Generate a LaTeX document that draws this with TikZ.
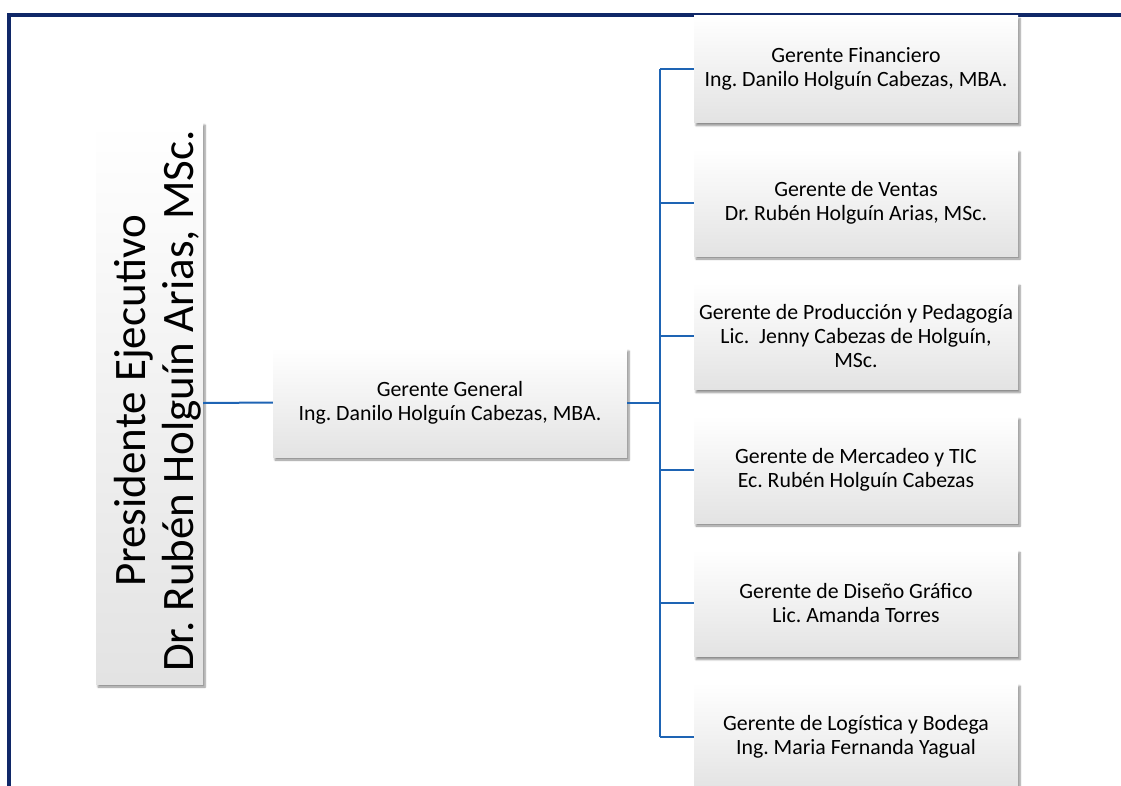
\documentclass[tikz,border=0pt]{standalone}
\usepackage{fontspec}
\setmainfont{Carlito}
\usetikzlibrary{shadows.blur}
\definecolor{azulmarco}{RGB}{16,40,104}
\definecolor{azullinea}{RGB}{30,100,180}
\frenchspacing

\begin{document}
\begin{tikzpicture}[x=1pt, y=-1pt,
    caja/.style={top color=white, bottom color=black!11, minimum width=324pt,
      minimum height=107pt, align=center, inner sep=2pt,
      font=\fontsize{21.8}{24}\selectfont,
      blur shadow={shadow xshift=2pt, shadow yshift=-3pt, shadow blur steps=6, shadow opacity=45}},
    linea/.style={azullinea, line width=2pt}]
    \clip (0,0) rectangle (1121,785);

    % Marco
    \draw[azulmarco, line width=4pt] (8.7,800) -- (8.7,14.7) -- (1130,14.7);

    % Presidente
    \node[caja, minimum width=107pt, minimum height=562pt] (pres) at (149.5,403) {};
    \node[rotate=90, align=center, font=\fontsize{45}{48}\selectfont] (prestexto) at (158,401)
        {Presidente Ejecutivo\\Dr. Rubén Holguín Arias, MSc.};

    % Gerente General
    \node[caja, minimum width=354pt, minimum height=109pt] (gg) at (450,402.5)
        {Gerente General\\Ing. Danilo Holguín Cabezas, MBA.};

    % Gerencias
    \node[caja] (fin) at (856,69) {Gerente Financiero\\Ing. Danilo Holguín Cabezas, MBA.};
    \node[caja] (ven) at (856,202.5) {Gerente de Ventas\\Dr. Rubén Holguín Arias, MSc.};
    \node[caja] (pro) at (856,336) {Gerente de Producción y Pedagogía\\Lic.\ \ Jenny Cabezas de Holguín,\\MSc.};
    \node[caja] (mer) at (856,469.5) {Gerente de Mercadeo y TIC\\Ec. Rubén Holguín Cabezas};
    \node[caja] (dis) at (856,603) {Gerente de Diseño Gráfico\\Lic. Amanda Torres};
    \node[caja] (log) at (856,736.5) {Gerente de Logística y Bodega\\Ing. Maria Fernanda Yagual};

    % Líneas
    \draw[linea] (pres.east) -- (gg.west);
    \draw[linea] (gg.east) -- (660,402.5) coordinate (bus);
    \draw[linea] (bus |- fin.west) -- (bus |- log.west);
    \draw[linea] (bus |- fin.west) -- (fin.west);
    \draw[linea] (bus |- ven.west) -- (ven.west);
    \draw[linea] (bus |- pro.west) -- (pro.west);
    \draw[linea] (bus |- mer.west) -- (mer.west);
    \draw[linea] (bus |- dis.west) -- (dis.west);
    \draw[linea] (bus |- log.west) -- (log.west);
\end{tikzpicture}
\end{document}
